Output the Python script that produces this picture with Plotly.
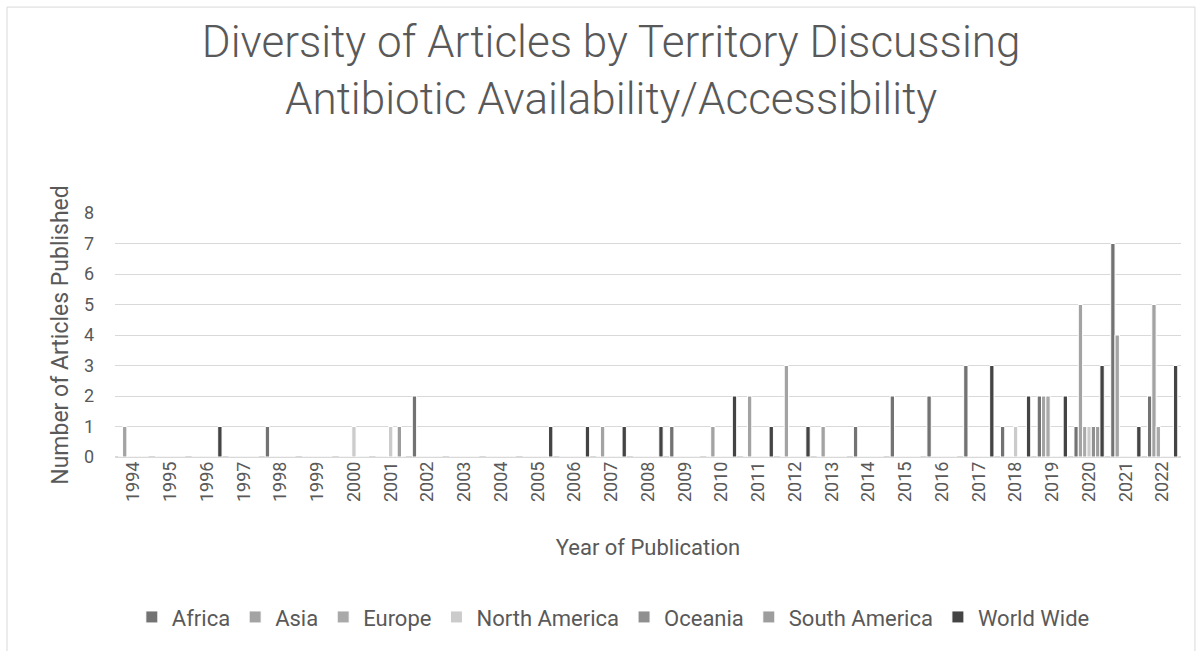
"""
按地区统计抗生素可及性文章数量 - 簇状柱状图
"""
import plotly.graph_objects as go

# 年份类别
YEARS = [str(y) for y in range(1994, 2023)]

# 各地区每年文章数(0 表示没有)
#                 94 95 96 97 98 99 00 01 02 03 04 05 06 07 08 09 10 11 12 13 14 15 16 17 18 19 20 21 22
AFRICA        = [0, 0, 0, 0, 1, 0, 0, 0, 2, 0, 0, 0, 0, 0, 0, 1, 0, 0, 0, 0, 1, 2, 2, 3, 1, 2, 1, 7, 2]
ASIA          = [1, 0, 0, 0, 0, 0, 0, 0, 0, 0, 0, 0, 0, 1, 0, 0, 1, 2, 3, 1, 0, 0, 0, 0, 0, 2, 5, 4, 5]
EUROPE        = [0, 0, 0, 0, 0, 0, 0, 0, 0, 0, 0, 0, 0, 0, 0, 0, 0, 0, 0, 0, 0, 0, 0, 0, 0, 2, 1, 0, 1]
NORTH_AMERICA = [0, 0, 0, 0, 0, 0, 1, 1, 0, 0, 0, 0, 0, 0, 0, 0, 0, 0, 0, 0, 0, 0, 0, 0, 1, 0, 1, 0, 0]
OCEANIA       = [0, 0, 0, 0, 0, 0, 0, 0, 0, 0, 0, 0, 0, 0, 0, 0, 0, 0, 0, 0, 0, 0, 0, 0, 0, 0, 1, 0, 0]
SOUTH_AMERICA = [0, 0, 0, 0, 0, 0, 0, 1, 0, 0, 0, 0, 0, 0, 0, 0, 0, 0, 0, 0, 0, 0, 0, 0, 0, 0, 1, 0, 0]
WORLD_WIDE    = [0, 0, 1, 0, 0, 0, 0, 0, 0, 0, 0, 1, 1, 1, 1, 0, 2, 1, 1, 0, 0, 0, 0, 3, 2, 2, 3, 1, 3]

SERIES = [
    ("Africa", AFRICA, "#737373"),
    ("Asia", ASIA, "#a3a3a3"),
    ("Europe", EUROPE, "#a9a9a9"),
    ("North America", NORTH_AMERICA, "#cbcbcb"),
    ("Oceania", OCEANIA, "#8f8f8f"),
    ("South America", SOUTH_AMERICA, "#9d9d9d"),
    ("World Wide", WORLD_WIDE, "#444444"),
]

TEXT = "#595959"
GRID = "#d9d9d9"
FONT = "Roboto"

fig = go.Figure()
for name, values, color in SERIES:
    fig.add_trace(go.Bar(
        x=YEARS,
        y=values,
        name=name,
        marker=dict(color=color, line=dict(color="white", width=1)),
    ))

fig.update_layout(
    width=1203,
    height=651,
    barmode="group",
    bargap=0.176,
    bargroupgap=0,
    plot_bgcolor="white",
    paper_bgcolor="white",
    font=dict(family=FONT, color=TEXT, size=17),
    title=dict(
        text="Diversity of Articles by Territory Discussing<br>Antibiotic Availability/Accessibility",
        font=dict(family=FONT, size=44, color=TEXT, weight=300),
        x=0.508, xanchor="center",
        y=0.912, yanchor="middle",
    ),
    margin=dict(l=115, r=22, t=213, b=194, autoexpand=False),
    legend=dict(
        orientation="h",
        x=0.4675, xanchor="center",
        yref="container", y=0.052, yanchor="middle",
        font=dict(size=22, color=TEXT),
        itemwidth=30,
        traceorder="normal",
    ),
    shapes=[dict(
        type="rect", xref="paper", yref="paper",
        x0=-0.1013, x1=1.0131, y0=-0.9, y1=1.844,
        line=dict(color=GRID, width=1),
    )],
)

fig.update_xaxes(
    type="category",
    tickangle=-90,
    tickfont=dict(size=18, color=TEXT),
    showgrid=False,
    showline=False,
    ticks="",
    title=dict(text="Year of Publication", font=dict(size=22, color=TEXT), standoff=38),
)
fig.update_yaxes(
    range=[0, 8],
    dtick=1,
    showgrid=True,
    gridcolor=GRID,
    gridwidth=1,
    zeroline=True,
    zerolinecolor=GRID,
    tickfont=dict(size=18, color=TEXT),
    ticks="",
    ticklabelstandoff=20,
    title=dict(text="Number of Articles Published", font=dict(size=23, color=TEXT), standoff=8),
)

# 去掉页面默认边距,图表贴齐窗口左上角;隐藏工具栏
fig.write_html(
    "out.html",
    config={"displayModeBar": False},
    post_script="document.body.style.margin='0';",
)
